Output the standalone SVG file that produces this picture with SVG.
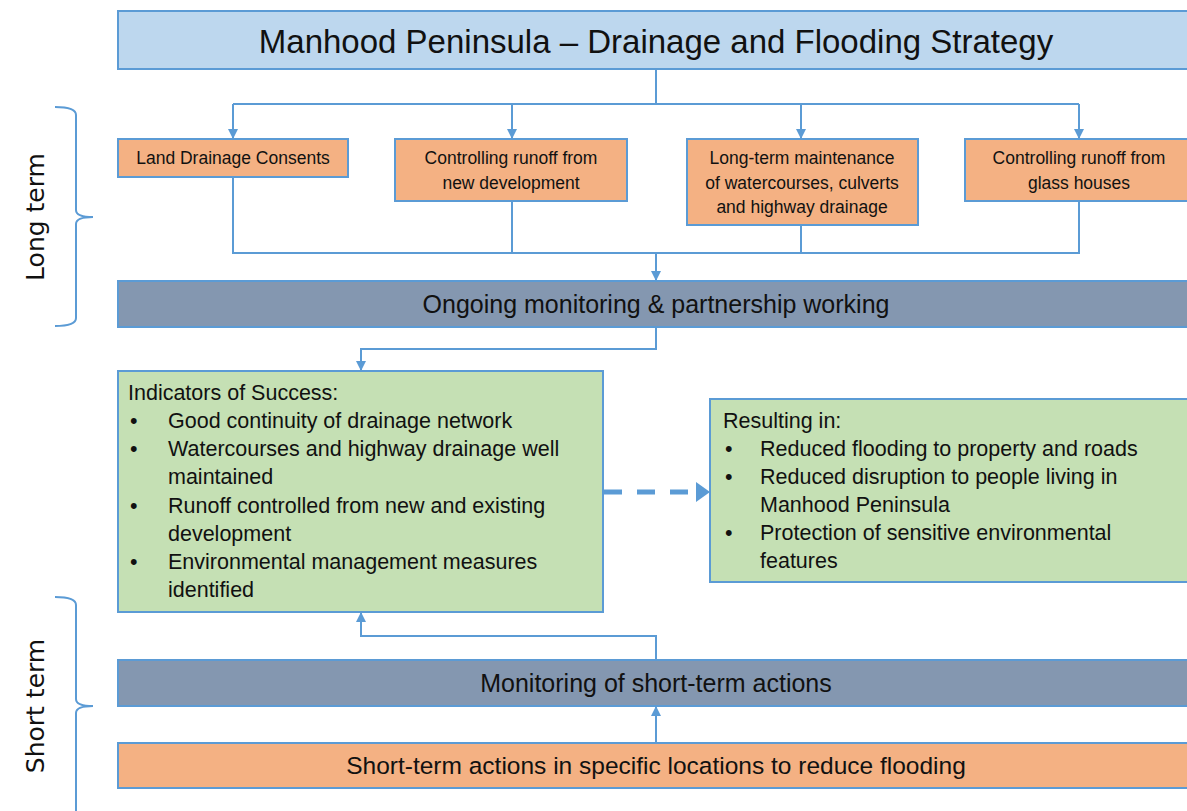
<svg xmlns="http://www.w3.org/2000/svg" width="1187" height="811" viewBox="0 0 1187 811">
<style>
.box{stroke:#5B9BD5;stroke-width:2}
.blue{fill:#BDD7EE}
.orange{fill:#F4B183}
.slate{fill:#8497B0}
.green{fill:#C5E0B4}
text{font-family:"Liberation Sans",Arial,sans-serif;fill:#111}
.c{text-anchor:middle}
.s16{font-size:17.5px}
.s19{font-size:21.5px}
.side{font-family:"DejaVu Sans",sans-serif;font-size:25px}
.ln{fill:none;stroke:#5B9BD5;stroke-width:2}
</style>
<defs>
<marker id="ah" markerUnits="userSpaceOnUse" markerWidth="10" markerHeight="10" viewBox="0 0 10 10" refX="10" refY="5" orient="auto">
<path d="M0,0 L10,5 L0,10 z" fill="#5B9BD5"/>
</marker>
</defs>
<rect width="1187" height="811" fill="#fff"/>

<g id="braces" fill="none" stroke="#5B9BD5" stroke-width="2">
<path d="M55,107 Q76,107 76,115 V210 Q76,217 93,217 Q76,217 76,224 V318 Q76,326 55,326"/>
<path d="M55,597 Q76,597 76,605 V699 Q76,706 93,706 Q76,706 76,713 V811"/>
</g>
<text class="side c" transform="translate(44,217) rotate(-90)">Long term</text>
<text class="side c" transform="translate(44,706) rotate(-90)">Short term</text>

<g id="connectors">
<path class="ln" d="M656,69 V104 M233,104 H1079"/>
<path class="ln" d="M233,104 V139" marker-end="url(#ah)"/>
<path class="ln" d="M512,104 V139" marker-end="url(#ah)"/>
<path class="ln" d="M801,104 V139" marker-end="url(#ah)"/>
<path class="ln" d="M1079,104 V139" marker-end="url(#ah)"/>
<path class="ln" d="M233,177 V253 H1079 V201 M512,201 V253 M801,225 V253"/>
<path class="ln" d="M656,253 V281" marker-end="url(#ah)"/>
<path class="ln" d="M656,327 V349 H361 V371" marker-end="url(#ah)"/>
<path class="ln" d="M656,660 V636 H361 V612" stroke-width="1.5" marker-end="url(#ah)"/>
<path class="ln" d="M656,743 V706" stroke-width="1.5" marker-end="url(#ah)"/>
<path d="M604,492 H698" fill="none" stroke="#5B9BD5" stroke-width="5" stroke-dasharray="18 15"/>
<path d="M696,482 L710,492 L696,502 z" fill="#5B9BD5"/>
</g>

<g id="title">
<rect class="box blue" x="118" y="11" width="1075" height="58"/>
<text class="c" x="656" y="53" font-size="33">Manhood Peninsula – Drainage and Flooding Strategy</text>
</g>

<g id="n-land">
<rect class="box orange" x="118" y="139" width="230" height="38"/>
<text class="c s16" x="233" y="164">Land Drainage Consents</text>
</g>
<g id="n-newdev">
<rect class="box orange" x="395" y="139" width="232" height="62"/>
<text class="c s16" x="511" y="164">Controlling runoff from</text>
<text class="c s16" x="511" y="189">new development</text>
</g>
<g id="n-maint">
<rect class="box orange" x="687" y="139" width="231" height="86"/>
<text class="c s16" x="802" y="164">Long-term maintenance</text>
<text class="c s16" x="802" y="189">of watercourses, culverts</text>
<text class="c s16" x="802" y="213">and highway drainage</text>
</g>
<g id="n-glass">
<rect class="box orange" x="965" y="139" width="230" height="62"/>
<text class="c s16" x="1079" y="164">Controlling runoff from</text>
<text class="c s16" x="1079" y="189">glass houses</text>
</g>

<g id="n-ongoing">
<rect class="box slate" x="118" y="281" width="1075" height="46"/>
<text class="c" x="656" y="313" font-size="25">Ongoing monitoring &amp; partnership working</text>
</g>

<g id="n-indicators">
<rect class="box green" x="118" y="371" width="485" height="241"/>
<g class="s19">
<text x="128" y="400">Indicators of Success:</text>
<text x="130" y="428">•</text><text x="168" y="428">Good continuity of drainage network</text>
<text x="130" y="456">•</text><text x="168" y="456">Watercourses and highway drainage well</text>
<text x="168" y="484">maintained</text>
<text x="130" y="513">•</text><text x="168" y="513">Runoff controlled from new and existing</text>
<text x="168" y="541">development</text>
<text x="130" y="569">•</text><text x="168" y="569">Environmental management measures</text>
<text x="168" y="597">identified</text>
</g>
</g>

<g id="n-resulting">
<rect class="box green" x="710" y="399" width="483" height="183"/>
<g class="s19">
<text x="723" y="428">Resulting in:</text>
<text x="725" y="456">•</text><text x="760" y="456">Reduced flooding to property and roads</text>
<text x="725" y="484">•</text><text x="760" y="484">Reduced disruption to people living in</text>
<text x="760" y="512">Manhood Peninsula</text>
<text x="725" y="540">•</text><text x="760" y="540">Protection of sensitive environmental</text>
<text x="760" y="568">features</text>
</g>
</g>

<g id="n-monitoring">
<rect class="box slate" x="118" y="660" width="1075" height="46"/>
<text class="c" x="656" y="692" font-size="25">Monitoring of short-term actions</text>
</g>

<g id="n-short">
<rect class="box orange" x="118" y="743" width="1075" height="45"/>
<text class="c" x="656" y="774" font-size="24.5">Short-term actions in specific locations to reduce flooding</text>
</g>
</svg>
